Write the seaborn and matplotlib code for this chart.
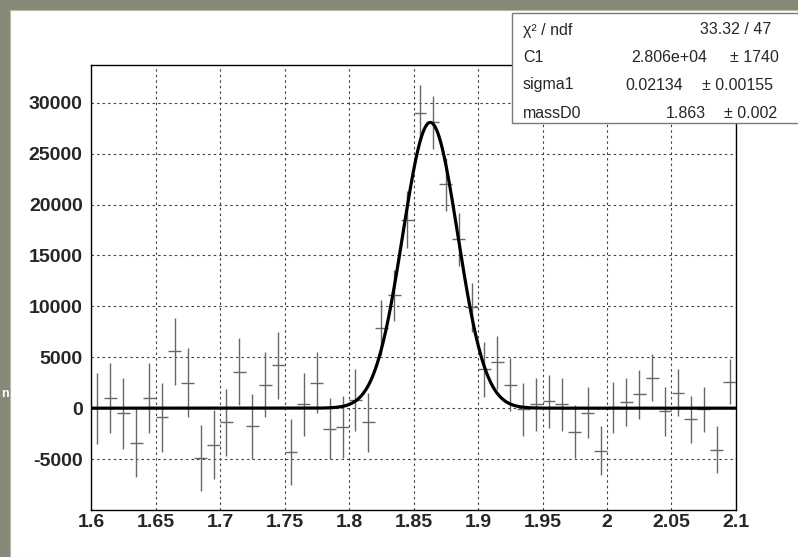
import numpy as np
import pandas as pd
import matplotlib
matplotlib.use("Agg")
import matplotlib.pyplot as plt
import seaborn as sns
from matplotlib.patches import Rectangle
from matplotlib.ticker import MultipleLocator

# ---------------- data ----------------
mass_lo, mass_hi, n_bins = 1.6, 2.1, 50
bin_half = 0.005
mass_bins = np.round(np.linspace(1.605, 2.095, n_bins), 3)

counts = [0, 1000, -500, -3400, 1000, -900, 5600, 2500, -4900, -3600,
          -1400, 3600, -1800, 2300, 4200, -4300, 400, 2500, -2000, -1850,
          800, -1400, 7900, 11100, 18500, 29000, 28100, 22000, 16600, 9900,
          3800, 4500, 2300, -100, 400, 700, 400, -2300, -450, -4200,
          100, 600, 1350, 3000, -300, 1500, -1100, -100, -4100, 2600]
errors = [3500, 3400, 3500, 3400, 3400, 3400, 3300, 3400, 3200, 3400,
          3300, 3300, 3200, 3200, 3300, 3200, 3100, 3000, 3000, 3000,
          3000, 2900, 2700, 2500, 2800, 2700, 2600, 2600, 2600, 2400,
          2700, 2600, 2600, 2600, 2600, 2600, 2600, 2600, 2500, 2400,
          2500, 2400, 2400, 2300, 2400, 2300, 2300, 2200, 2300, 2200]

# fit parameters (from the stats box)
chi2, ndf = 33.32, 47
param_names = ["C1", "sigma1", "massD0"]
param_values = [2.806e4, 0.02134, 1.863]
param_errors = [1740, 0.00155, 0.002]
param_value_text = ["2.806e+04", "0.02134", "1.863"]
param_error_text = ["1740", "0.00155", "0.002"]

x_ticks = [1.6, 1.65, 1.7, 1.75, 1.8, 1.85, 1.9, 1.95, 2.0, 2.05, 2.1]
x_tick_labels = ["1.6", "1.65", "1.7", "1.75", "1.8", "1.85", "1.9", "1.95", "2", "2.05", "2.1"]
y_ticks = [-5000, 0, 5000, 10000, 15000, 20000, 25000, 30000]
y_tick_labels = ["-5000", "0", "5000", "10000", "15000", "20000", "25000", "30000"]

df = pd.DataFrame({"mass": mass_bins, "count": counts, "err": errors})

C1, sig, mu = param_values
fit_x = np.linspace(mass_lo, mass_hi, 1000)
fit_y = C1 * np.exp(-0.5 * ((fit_x - mu) / sig) ** 2)
fit_df = pd.DataFrame({"mass": fit_x, "fit": fit_y})

# ---------------- style ----------------
sns.set_style("white")
plt.rcParams["font.family"] = ["Liberation Sans", "DejaVu Sans"]

W, H = 798, 557
fig = plt.figure(figsize=(W / 100, H / 100), dpi=100)
fig.patch.set_facecolor("#878977")
fig.add_artist(Rectangle((10 / W, 0), 1, (H - 10) / H, transform=fig.transFigure,
                         facecolor="white", edgecolor="#b8baa8", lw=0.8, zorder=-1))

ax = fig.add_axes([91 / W, 1 - 510 / H, (736 - 91) / W, (510 - 65) / H])
ax.set_facecolor("white")

# grid
ax.set_axisbelow(True)
ax.grid(True, which="major", color="#404040", linestyle=(0, (2.2, 2.8)), linewidth=0.8)

# data points with error bars
ax.errorbar(df["mass"], df["count"], yerr=df["err"], xerr=bin_half, fmt="none",
            ecolor="#686868", elinewidth=1.0, capsize=0, zorder=3)

# fit curve
sns.lineplot(data=fit_df, x="mass", y="fit", ax=ax, color="black",
             linewidth=2.3, zorder=4)

ax.set_xlim(mass_lo, mass_hi)
ax.set_ylim(-10000, 33700)
ax.set_xticks(x_ticks)
ax.set_xticklabels(x_tick_labels)
ax.set_yticks(y_ticks)
ax.set_yticklabels(y_tick_labels)
ax.xaxis.set_minor_locator(MultipleLocator(0.01))
ax.yaxis.set_minor_locator(MultipleLocator(1000))
ax.set_xlabel("")
ax.set_ylabel("")

ax.tick_params(axis="both", which="both", direction="in", top=False, right=False,
               color="black", width=1.0)
ax.tick_params(axis="both", which="major", length=9)
ax.tick_params(axis="both", which="minor", length=5)
ax.tick_params(axis="y", which="major", pad=6, labelsize=14)
ax.tick_params(axis="x", which="major", pad=3, labelsize=14)
for lab in ax.get_xticklabels() + ax.get_yticklabels():
    lab.set_fontweight("bold")

for sp in ax.spines.values():
    sp.set_color("black")
    sp.set_linewidth(1.0)

# ---------------- stats box ----------------
bx0, by0, bx1, by1 = 511.5, 13, 800, 123
fig.add_artist(Rectangle((bx0 / W, 1 - by1 / H), (bx1 - bx0) / W, (by1 - by0) / H,
                         transform=fig.transFigure, facecolor="white",
                         edgecolor="#7a7a7a", lw=1.0, zorder=5))

fs = 11.5
row_y = [30, 58, 85, 113]
fig.text(523 / W, 1 - row_y[0] / H, "χ² / ndf", fontsize=fs, va="center",
         ha="left", zorder=6)
fig.text(771 / W, 1 - row_y[0] / H, f"{chi2:.2f} / {ndf}", fontsize=fs,
         va="center", ha="right", zorder=6)
val_right = [707, 683, 706]
err_right = [779, 773, 777]
for i, name in enumerate(param_names):
    yy = 1 - row_y[i + 1] / H
    fig.text(523 / W, yy, name, fontsize=fs, va="center", ha="left", zorder=6)
    fig.text(val_right[i] / W, yy, param_value_text[i], fontsize=fs, va="center",
             ha="right", zorder=6)
    fig.text(err_right[i] / W, yy, "± " + param_error_text[i], fontsize=fs,
             va="center", ha="right", zorder=6)

# fragment of slide text in the left margin
fig.text(1 / W, 1 - 394 / H, "n", color="white", fontsize=9, fontweight="bold",
         ha="left", va="center")

fig.savefig("out.png", dpi=100, facecolor=fig.get_facecolor())
